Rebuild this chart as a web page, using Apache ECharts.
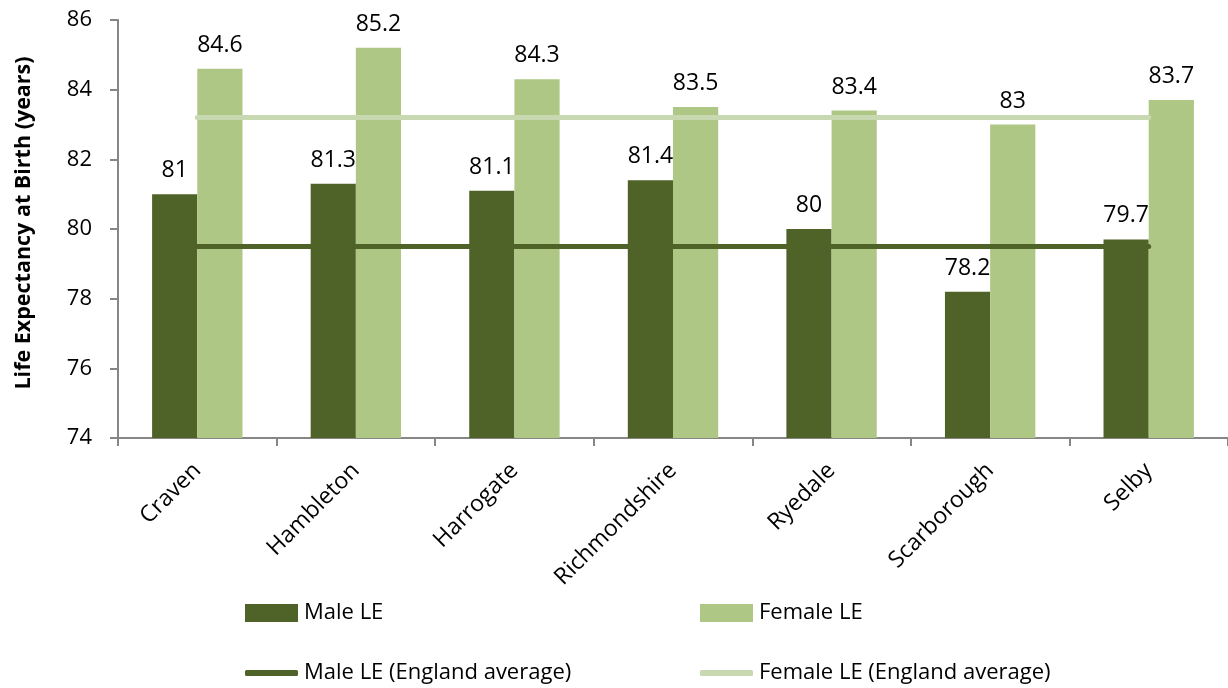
<!DOCTYPE html>
<html>
<head>
<meta charset="utf-8">
<script src="https://cdn.jsdelivr.net/npm/echarts@6/dist/echarts.min.js"></script>
<style>
  html, body { margin: 0; padding: 0; background: #fff; }
  #chart { width: 1228px; height: 688px; }
</style>
</head>
<body>
<div id="chart"></div>
<script>
// 数据
const districts = ['Craven', 'Hambleton', 'Harrogate', 'Richmondshire', 'Ryedale', 'Scarborough', 'Selby']
const maleLE = [81, 81.3, 81.1, 81.4, 80, 78.2, 79.7]
const femaleLE = [84.6, 85.2, 84.3, 83.5, 83.4, 83, 83.7]
const maleEngland = [79.5, 79.5, 79.5, 79.5, 79.5, 79.5, 79.5]
const femaleEngland = [83.2, 83.2, 83.2, 83.2, 83.2, 83.2, 83.2]
const yTicks = [74, 76, 78, 80, 82, 84, 86]

const FONT = '"Open Sans", "Liberation Sans", sans-serif'
const AXIS_GREY = '#868686'
const MALE = '#4f6228'
const FEMALE = '#aec785'
const FEMALE_LINE = '#c8d8b0'

const chart = echarts.init(document.getElementById('chart'), null, { renderer: 'canvas' })

// 图例：四个独立组件，两行两列
const legendItem = (name, left, top, isLine) => ({
  data: [{ name, icon: isLine ? 'roundRect' : 'rect' }],
  left, top,
  padding: 0,
  itemWidth: 53,
  itemHeight: isLine ? 6 : 18,
  itemGap: 0,
  selectedMode: false,
  textStyle: { fontFamily: FONT, fontSize: 22, color: '#000', padding: [0, 0, 0, 1] }
})

chart.setOption({
  animation: false,
  textStyle: { fontFamily: FONT },
  grid: { left: 118, right: 0, top: 20, bottom: 250 },
  legend: [
    legendItem('Male LE', 245, 602, false),
    legendItem('Female LE', 700, 602, false),
    legendItem('Male LE (England average)', 245, 662, true),
    legendItem('Female LE (England average)', 700, 662, true)
  ],
  xAxis: {
    type: 'category',
    data: districts,
    axisLine: { lineStyle: { color: AXIS_GREY, width: 2 } },
    axisTick: { show: true, length: 8, lineStyle: { color: AXIS_GREY, width: 2 } },
    axisLabel: { rotate: 45, margin: 29, color: '#000', fontSize: 23, fontFamily: FONT }
  },
  yAxis: {
    type: 'value',
    min: yTicks[0],
    max: yTicks[yTicks.length - 1],
    interval: 2,
    name: 'Life Expectancy at Birth (years)',
    nameLocation: 'middle',
    nameGap: 83,
    nameTextStyle: { fontSize: 21.5, fontWeight: 'bold', color: '#000', fontFamily: FONT, padding: [0, 0, 0, 12] },
    axisLine: { show: true, lineStyle: { color: AXIS_GREY, width: 2 } },
    axisTick: { show: true, length: 8, lineStyle: { color: AXIS_GREY, width: 2 } },
    splitLine: { show: false },
    axisLabel: { color: '#000', fontSize: 22, margin: 26, fontFamily: FONT }
  },
  series: [
    {
      name: 'Male LE',
      type: 'bar',
      data: maleLE,
      barGap: '0%',
      barCategoryGap: '43%',
      itemStyle: { color: MALE },
      label: { show: true, position: 'top', distance: 12, color: '#000', fontSize: 23, fontFamily: FONT }
    },
    {
      name: 'Female LE',
      type: 'bar',
      data: femaleLE,
      itemStyle: { color: FEMALE },
      label: { show: true, position: 'top', distance: 12, color: '#000', fontSize: 23, fontFamily: FONT }
    },
    {
      name: 'Male LE (England average)',
      type: 'line',
      data: maleEngland,
      symbol: 'none',
      z: 5,
      lineStyle: { color: MALE, width: 5, cap: 'round' },
      itemStyle: { color: MALE }
    },
    {
      name: 'Female LE (England average)',
      type: 'line',
      data: femaleEngland,
      symbol: 'none',
      z: 5,
      lineStyle: { color: FEMALE_LINE, width: 5, cap: 'round' },
      itemStyle: { color: FEMALE_LINE }
    }
  ]
})
</script>
</body>
</html>
